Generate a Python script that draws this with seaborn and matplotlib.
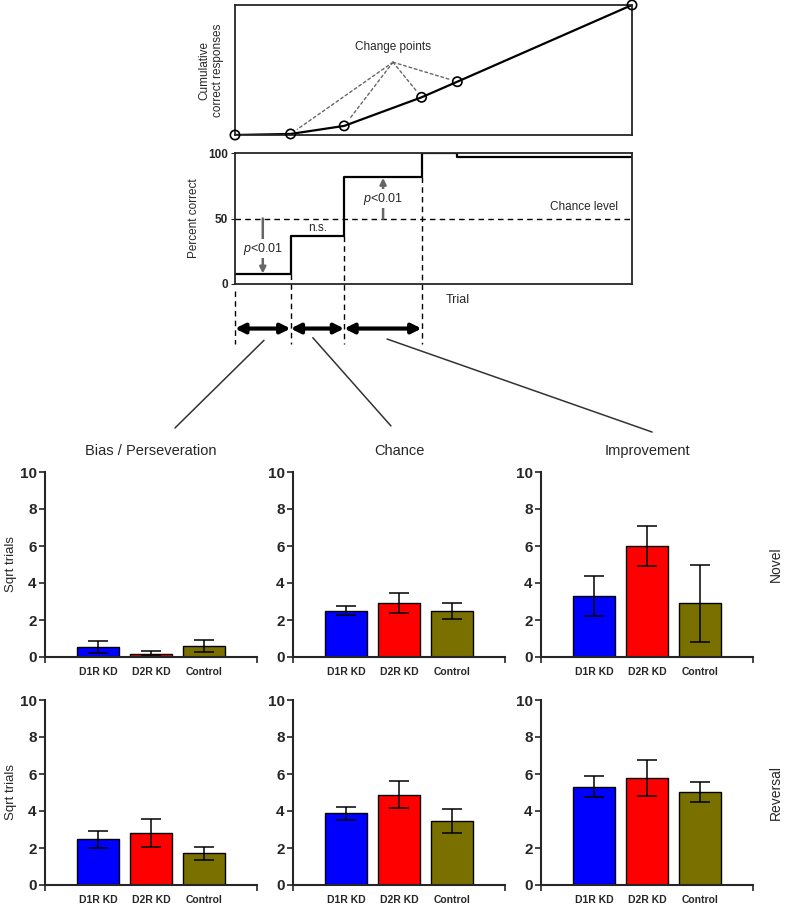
import numpy as np
import pandas as pd
import matplotlib
matplotlib.use("Agg")
import matplotlib.pyplot as plt
import seaborn as sns
from matplotlib.patches import ConnectionPatch

# ---------------- data ----------------
cp_trial = [0, 14, 27.5, 47, 56, 100]        # change points (trial axis, %)
cp_cum = [0, 0.8, 7, 29, 41, 100]            # cumulative correct at change points
step_level = [8, 37, 82, 100, 97]            # percent correct per segment
chance_level = 50

groups = ["D1R KD", "D2R KD", "Control"]
bar_colors = ["#0000FF", "#FF0000", "#7A7000"]
phases = ["Bias / Perseveration", "Chance", "Improvement"]
conditions = ["Novel", "Reversal"]

novel_bias_mean = [0.55, 0.18, 0.60]
novel_bias_sem = [0.32, 0.15, 0.32]
novel_chance_mean = [2.50, 2.90, 2.48]
novel_chance_sem = [0.24, 0.54, 0.43]
novel_improve_mean = [3.30, 6.00, 2.90]
novel_improve_sem = [1.07, 1.10, 2.07]
rev_bias_mean = [2.47, 2.82, 1.71]
rev_bias_sem = [0.45, 0.74, 0.34]
rev_chance_mean = [3.88, 4.88, 3.45]
rev_chance_sem = [0.34, 0.74, 0.66]
rev_improve_mean = [5.30, 5.80, 5.03]
rev_improve_sem = [0.57, 0.97, 0.52]

means = [[novel_bias_mean, novel_chance_mean, novel_improve_mean],
         [rev_bias_mean, rev_chance_mean, rev_improve_mean]]
sems = [[novel_bias_sem, novel_chance_sem, novel_improve_sem],
        [rev_bias_sem, rev_chance_sem, rev_improve_sem]]

# ---------------- style ----------------
sns.set_style("ticks")
plt.rcParams['font.family'] = ['Liberation Sans', 'DejaVu Sans']
plt.rcParams['mathtext.fontset'] = 'custom'
plt.rcParams['mathtext.rm'] = 'Liberation Sans'
plt.rcParams['mathtext.it'] = 'Liberation Sans:italic'

W, H = 787, 906
fig = plt.figure(figsize=(W / 100, H / 100), dpi=100)


def rect(x0, y0, x1, y1):
    return [x0 / W, 1 - y1 / H, (x1 - x0) / W, (y1 - y0) / H]


# ---------------- cumulative panel ----------------
ax1 = fig.add_axes(rect(235, 5, 632, 135))
sns.lineplot(x=cp_trial, y=cp_cum, ax=ax1, color="black", lw=1.6, estimator=None)
sns.scatterplot(x=cp_trial, y=cp_cum, ax=ax1, marker="o", s=45, facecolor="none",
                edgecolor="black", linewidth=1.2, clip_on=False, zorder=5)
ax1.set_xlim(0, 100)
ax1.set_ylim(0, 100)
ax1.set_xticks([])
ax1.set_yticks([])
for s in ax1.spines.values():
    s.set_visible(True)
    s.set_linewidth(1.3)
ax1.set_ylabel("Cumulative\ncorrect responses", fontsize=8.5, labelpad=8)
apex = (39.8, 56)
ax1.text(apex[0], 63, "Change points", ha="center", va="bottom", fontsize=8.5)
for xt, yc in zip(cp_trial[1:5], cp_cum[1:5]):
    ax1.annotate("", xy=(xt, yc), xytext=apex,
                 arrowprops=dict(arrowstyle="-", ls=(0, (2, 2)), color="#666666",
                                 lw=1.0, shrinkA=0, shrinkB=6))

# ---------------- percent-correct panel ----------------
ax2 = fig.add_axes(rect(235, 153, 632, 284))
step_x = cp_trial
step_y = step_level + [step_level[-1]]
ax2.plot(step_x, step_y, drawstyle="steps-post", color="black", lw=1.6)
ax2.axhline(chance_level, color="black", ls=(0, (4, 3)), lw=1.0)
ax2.set_xlim(0, 100)
ax2.set_ylim(0, 100)
ax2.set_xticks([])
ax2.set_yticks([0, 50, 100])
ax2.tick_params(axis="y", length=3, labelsize=8.5, pad=2)
for lab in ax2.get_yticklabels():
    lab.set_fontweight("bold")
for s in ax2.spines.values():
    s.set_visible(True)
    s.set_linewidth(1.3)
ax2.set_ylabel("Percent correct", fontsize=8.5, labelpad=6)
ax2.text(56, -8, "Trial", ha="center", va="top", fontsize=9)
ax2.text(88, 54, "Chance level", ha="center", va="bottom", fontsize=8.5)

# vertical dashed guides at change points
for i, xt in enumerate(cp_trial[:4]):
    top = min(step_level[i - 1], step_level[i]) if i > 0 else -5
    ax2.plot([xt, xt], [top, -46], color="black", ls=(0, (4, 3)), lw=1.0,
             clip_on=False)

# significance arrows
ax2.annotate("", xy=(7, 8), xytext=(7, 50),
             arrowprops=dict(arrowstyle="-|>", color="#666666", lw=1.8,
                             mutation_scale=9, shrinkA=0, shrinkB=0))
ax2.text(7, 27, "$p$<0.01", ha="center", va="center", fontsize=9,
         bbox=dict(facecolor="white", edgecolor="none", pad=1))
ax2.annotate("", xy=(37.3, 81), xytext=(37.3, 50),
             arrowprops=dict(arrowstyle="-|>", color="#666666", lw=1.8,
                             mutation_scale=9, shrinkA=0, shrinkB=0))
ax2.text(37.3, 65, "$p$<0.01", ha="center", va="center", fontsize=9,
         bbox=dict(facecolor="white", edgecolor="none", pad=1))
ax2.text(20.8, 38, "n.s.", ha="center", va="bottom", fontsize=8.5)

# segment arrows
for i in range(3):
    ax2.annotate("", xy=(cp_trial[i + 1], -34), xytext=(cp_trial[i], -34),
                 annotation_clip=False,
                 arrowprops=dict(arrowstyle="<|-|>", color="black", lw=3,
                                 mutation_scale=14, shrinkA=0, shrinkB=0))

# ---------------- bar panels ----------------
col_x = [45, 293, 541]
row_y = [(472, 657), (700, 885)]
bar_axes = [[None] * 3 for _ in range(2)]
for r in range(2):
    for c in range(3):
        ax = fig.add_axes(rect(col_x[c], row_y[r][0], col_x[c] + 212, row_y[r][1]))
        bar_axes[r][c] = ax
        df = pd.DataFrame({"group": groups, "value": means[r][c]})
        sns.barplot(data=df, x="group", y="value", hue="group", palette=bar_colors,
                    order=groups, hue_order=groups, edgecolor="black", linewidth=1.0,
                    width=0.81, errorbar=None, legend=False, ax=ax, saturation=1)
        ax.errorbar(x=np.arange(len(groups)), y=means[r][c], yerr=sems[r][c],
                    fmt="none", ecolor="black", elinewidth=1.1, capsize=7, capthick=1.1)
        ax.set_xlim(-1, 3)
        ax.set_ylim(0, 10)
        ax.set_yticks(range(0, 11, 2))
        ax.set_xticks(range(3))
        ax.set_xticklabels(groups)
        ax.set_xticks([-1, 1, 3], minor=True)
        ax.tick_params(axis="x", which="major", length=0, labelsize=7.5, pad=7)
        ax.tick_params(axis="x", which="minor", length=4, width=1.2, direction="out")
        ax.tick_params(axis="y", length=4, width=1.2, labelsize=11, pad=2)
        for lab in ax.get_xticklabels():
            lab.set_fontweight("bold")
        for lab in ax.get_yticklabels():
            lab.set_fontweight("bold")
        sns.despine(ax=ax)
        ax.spines["left"].set_linewidth(1.5)
        ax.spines["bottom"].set_linewidth(1.5)
        ax.set_xlabel("")
        if c == 0:
            ax.set_ylabel("Sqrt trials", fontsize=9.5)
            ax.yaxis.set_label_coords(-0.13, 0.5)
        else:
            ax.set_ylabel("")
        if r == 0:
            ax.set_title(phases[c], fontsize=10.5, pad=12)
        if c == 2:
            ax.text(1.11, 0.5, conditions[r], rotation=90, ha="center", va="center",
                    fontsize=10, transform=ax.transAxes)

# connector lines from trial segments to bar panel titles
starts = [(7.3, -43), (19.6, -41), (38.3, -42)]
ends = [(0.613, 1.238), (0.462, 1.249), (0.524, 1.216)]
for c in range(3):
    con = ConnectionPatch(xyA=starts[c], coordsA=ax2.transData,
                          xyB=ends[c], coordsB=bar_axes[0][c].transAxes,
                          color="#333333", lw=1.1)
    fig.add_artist(con)

fig.savefig("out.png", dpi=100)
